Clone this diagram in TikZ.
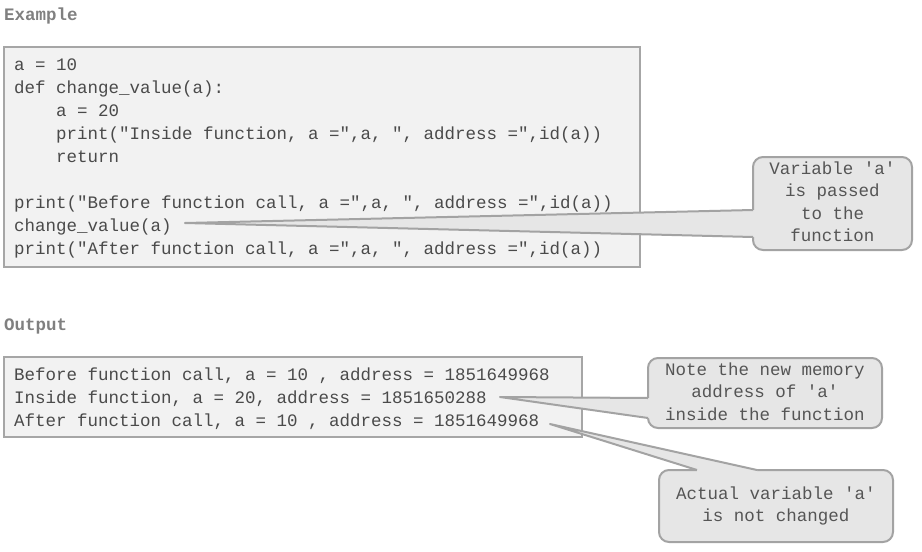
\documentclass[tikz,border=0pt]{standalone}
\usepackage{fontspec}
\setmonofont{Liberation Mono}
\usetikzlibrary{calc}
\definecolor{headgray}{HTML}{808080}
\definecolor{codegray}{HTML}{4A4A4A}
\definecolor{boxfill}{HTML}{F2F2F2}
\definecolor{boxline}{HTML}{A6A6A6}
\definecolor{notefill}{HTML}{E6E6E6}
\definecolor{noteline}{HTML}{A3A3A3}
\definecolor{notegray}{HTML}{555555}

\begin{document}
\begin{tikzpicture}[x=1pt, y=-1pt,
    headtext/.style={text=headgray, font=\ttfamily\bfseries\fontsize{17.5}{23}\selectfont, inner sep=0pt},
    codebox/.style={draw=boxline, fill=boxfill, line width=2pt, inner sep=0pt, outer sep=0pt},
    codetext/.style={text=codegray, font=\ttfamily\fontsize{17.5}{23}\selectfont, align=left, inner sep=0pt},
    notebox/.style={draw=noteline, fill=notefill, line width=2pt, rounded corners=10pt, inner sep=0pt, outer sep=0pt,
        text=notegray, font=\ttfamily\fontsize{17.5}{22.5}\selectfont, align=center},
    tailline/.style={draw=noteline, line width=2pt, line join=round}]
    \useasboundingbox (0,0) rectangle (922,552);

    % example
    \node[headtext, anchor=base west] (example) at (4,20) {Example};
    \node[codebox, minimum width=636pt, minimum height=220pt] (codebox) at (322,157) {};
    \node[codetext, anchor=north west] (code) at (14,53.9) {\strut a = 10\\
        def change\_value(a):\\
        \hspace*{42pt}a = 20\\
        \hspace*{42pt}print("Inside function, a =",a, ", address =",id(a))\\
        \hspace*{42pt}return\\[23pt]
        print("Before function call, a =",a, ", address =",id(a))\\
        change\_value(a)\\
        print("After function call, a =",a, ", address =",id(a))};
    \coordinate (tipA) at (185,223);
    \node[notebox, minimum width=159pt, minimum height=93pt] (noteA) at (832.5,203.5)
        {\strut Variable 'a'\\is passed\\to the\\function\strut};

    % output
    \node[headtext, anchor=base west] (output) at (4,330) {Output};
    \node[codebox, minimum width=578pt, minimum height=80pt] (outbox) at (293,397) {};
    \node[codetext, anchor=north west] (out) at (14,363.9) {\strut Before function call, a = 10 , address = 1851649968\\
        Inside function, a = 20, address = 1851650288\\
        After function call, a = 10 , address = 1851649968};
    \coordinate (tipB) at (500,397);
    \coordinate (tipC) at (550,424);
    \node[notebox, minimum width=234pt, minimum height=70pt] (noteB) at (765,393)
        {\strut Note the new memory\\address of 'a'\\inside the function\strut};
    \node[notebox, minimum width=234pt, minimum height=72pt] (noteC) at (776,506)
        {\strut Actual variable 'a'\\is not changed\strut};

    % tails
    \coordinate (a1) at ($(noteA.north west)+(0,53)$);
    \coordinate (a2) at ($(noteA.north west)+(0,80)$);
    \fill[notefill] (tipA) -- (a1) -- ++(3,0) -- ($(a2)+(3,0)$) -- (a2) -- cycle;
    \draw[tailline] (a1) -- (tipA) -- (a2);
    \coordinate (b1) at ($(noteB.north west)+(0,40)$);
    \coordinate (b2) at ($(noteB.north west)+(0,60)$);
    \fill[notefill] (tipB) -- (b1) -- ++(3,0) -- ($(b2)+(3,0)$) -- (b2) -- cycle;
    \draw[tailline] (b1) -- (tipB) -- (b2);
    \coordinate (c1) at ($(noteC.north west)+(38,0)$);
    \coordinate (c2) at ($(noteC.north west)+(98,0)$);
    \fill[notefill] (tipC) -- (c1) -- ++(0,3) -- ($(c2)+(0,3)$) -- (c2) -- cycle;
    \draw[tailline] (c1) -- (tipC) -- (c2);
\end{tikzpicture}
\end{document}
